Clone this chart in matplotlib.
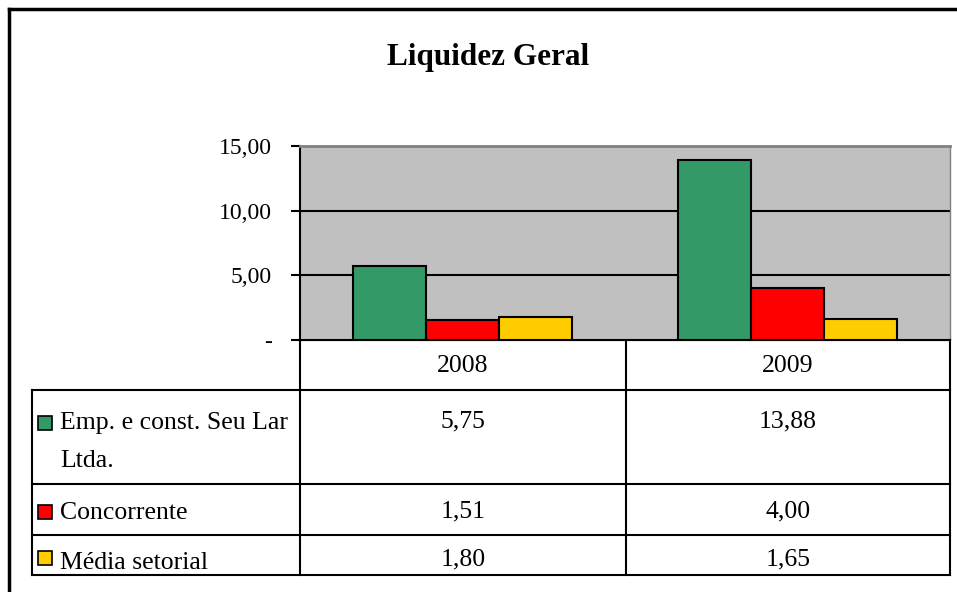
import matplotlib.pyplot as plt
from matplotlib.patches import Rectangle

# dados
anos = ["2008", "2009"]
series = ["Emp. e const. Seu Lar\nLtda.", "Concorrente", "Média setorial"]
valores = [
    [5.75, 13.88],
    [1.51, 4.00],
    [1.80, 1.65],
]
cores = ["#339966", "#FF0000", "#FFCC00"]
yticks = [0, 5, 10, 15]
ytick_labels = ["-", "5,00", "10,00", "15,00"]

W, H = 957, 592
plt.rcParams["font.family"] = ["Liberation Serif", "DejaVu Serif"]

fig = plt.figure(figsize=(W / 100, H / 100), dpi=100)

# camada de fundo em pixels (moldura + tabela)
bg = fig.add_axes([0, 0, 1, 1])
bg.set_xlim(0, W)
bg.set_ylim(H, 0)
bg.axis("off")

# moldura do grafico
bg.plot([9, W], [9, 9], color="black", lw=2.5)
bg.plot([9, 9], [9, H], color="black", lw=2.5)

bg.text(488, 57, "Liquidez Geral", ha="center", va="center",
        fontsize=22.5, fontweight="bold")

# area do grafico
x0, x1, y0, y1 = 300, 950, 146, 340
ax = fig.add_axes([x0 / W, 1 - y1 / H, (x1 - x0) / W, (y1 - y0) / H])
ax.set_facecolor("#C0C0C0")
larg = 0.224
pos = list(range(len(anos)))
for i, vals in enumerate(valores):
    ax.bar([p + (i - 1) * larg for p in pos], vals, width=larg,
           color=cores[i], edgecolor="black", linewidth=1.5, zorder=3)
ax.set_xlim(-0.5, len(anos) - 0.5)
ax.set_ylim(0, 15)
ax.set_yticks(yticks)
ax.set_yticklabels(ytick_labels, fontsize=17)
ax.tick_params(axis="y", direction="out", length=6.5, width=1.5, pad=14)
ax.set_xticks([])
for yv in [5, 10]:
    ax.axhline(yv, color="black", lw=1.5, zorder=1)
ax.spines["top"].set_color("#808080")
ax.spines["top"].set_linewidth(2)
ax.spines["right"].set_color("#808080")
ax.spines["right"].set_linewidth(1)
ax.spines["left"].set_linewidth(1.5)
ax.spines["bottom"].set_linewidth(1.5)

# tabela de dados
col_x = [32, 300, 626, 950]
linhas_y = [340, 390, 484, 535, 575]
lw = 1.5
# linhas horizontais
bg.plot([300, 950], [340, 340], color="black", lw=lw)
for yl in linhas_y[1:]:
    bg.plot([32, 950], [yl, yl], color="black", lw=lw)
# linhas verticais
bg.plot([32, 32], [390, 575], color="black", lw=lw)
for xc in col_x[1:]:
    bg.plot([xc, xc], [340, 575], color="black", lw=lw)

centros = [(col_x[1] + col_x[2]) / 2, (col_x[2] + col_x[3]) / 2]
for j, ano in enumerate(anos):
    bg.text(centros[j], 366, ano, ha="center", va="center", fontsize=18.5)

rotulo_y = [423, 513, 563]
valor_y = [421, 511, 559]
chave_y = [423, 512, 558]
for i, nome in enumerate(series):
    bg.add_patch(Rectangle((38, chave_y[i] - 7), 14, 14, facecolor=cores[i],
                           edgecolor="black", lw=1.2))
    bg.text(60, rotulo_y[i] - 11, nome, ha="left", va="top", fontsize=18.5,
            linespacing=1.95)
    for j in range(len(anos)):
        txt = f"{valores[i][j]:.2f}".replace(".", ",")
        bg.text(centros[j], valor_y[i], txt, ha="center", va="center", fontsize=18.5)

fig.savefig("out.png", dpi=100)
